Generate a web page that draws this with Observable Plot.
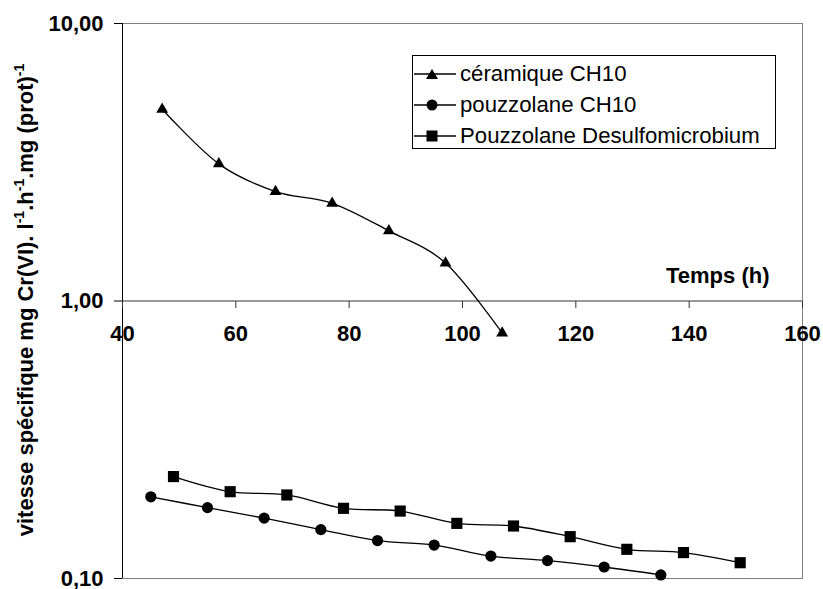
<!DOCTYPE html>
<html><head><meta charset="utf-8">
<script src="https://cdn.jsdelivr.net/npm/d3@7"></script>
<script src="https://cdn.jsdelivr.net/npm/@observablehq/plot@0.6"></script>
<style>
body{margin:0;background:#fff;font-family:Arial,"Liberation Sans",sans-serif;}
#wrap{position:relative;width:823px;height:589px;overflow:hidden;}
#legend{position:absolute;left:412px;top:55px;width:364px;height:94px;border:1px solid #000;background:#fff;box-sizing:border-box;}
.row{position:absolute;left:0;height:30px;line-height:30px;font-size:22.2px;color:#000;white-space:nowrap;}
.row svg{position:absolute;left:1px;top:0;}
.row span{position:absolute;left:47px;top:0;}
</style></head><body><div id="wrap"></div>
<script>
const seriesNames = ["céramique CH10", "pouzzolane CH10", "Pouzzolane Desulfomicrobium"];
const ceramX = [47, 57, 67, 77, 87, 97, 107];
const ceramY = [4.91, 3.12, 2.48, 2.25, 1.79, 1.37, 0.767];
const pouzX = [45, 55, 65, 75, 85, 95, 105, 115, 125, 135];
const pouzY = [0.197, 0.180, 0.165, 0.150, 0.137, 0.132, 0.1205, 0.116, 0.110, 0.103];
const desulX = [49, 59, 69, 79, 89, 99, 109, 119, 129, 139, 149];
const desulY = [0.233, 0.2055, 0.200, 0.179, 0.175, 0.158, 0.1546, 0.1415, 0.1274, 0.124, 0.114];
const xTicks = [40, 60, 80, 100, 120, 140, 160];
const yTicks = [0.1, 1, 10];
const yTickLabels = ["0,10", "1,00", "10,00"];
const xLabel = "Temps (h)";
const symbols = ["triangle", "circle", "square"];

const toRows = (xs, ys, s) => xs.map((x, i) => ({x, y: ys[i], s}));
const ceram = toRows(ceramX, ceramY, seriesNames[0]);
const pouz = toRows(pouzX, pouzY, seriesNames[1]);
const desul = toRows(desulX, desulY, seriesNames[2]);
const all = [...ceram, ...pouz, ...desul];
const FONT = "Arial, 'Liberation Sans', sans-serif";
// downward tick glyph for the x axis drawn at y = 1
const tickDown = {draw(ctx) { ctx.moveTo(0, 0); ctx.lineTo(0, 7); }};

const plot = Plot.plot({
  width: 823, height: 589,
  marginLeft: 122, marginRight: 21, marginTop: 23, marginBottom: 11,
  style: {fontFamily: FONT, background: "#fff", color: "#000"},
  x: {domain: [40, 160], axis: null},
  y: {type: "log", domain: [0.1, 10], axis: null},
  marks: [
    Plot.frame({stroke: "#808080"}),
    Plot.ruleX([40], {stroke: "#000"}),
    Plot.ruleY([1], {stroke: "#333"}),
    Plot.axisY(yTicks, {tickSize: 8, tickPadding: 11, tickFormat: d => yTickLabels[yTicks.indexOf(d)],
      fontSize: 22, fontWeight: "bold", label: null}),
    Plot.dot(xTicks, {x: d => d, y: () => 1, symbol: tickDown, stroke: "#333", fill: "none", strokeWidth: 1}),
    Plot.text(xTicks, {x: d => d, y: () => 1, text: d => String(d), dy: 33, fontSize: 22, fontWeight: "bold", fill: "#000"}),
    Plot.text([{label: xLabel, y: 1}], {y: "y", text: "label", frameAnchor: "right", textAnchor: "end", dx: -33, dy: -25, fontSize: 22, fontWeight: "bold", fill: "#000"}),
    Plot.line(all, {x: "x", y: "y", z: "s", curve: "cardinal", stroke: "#000", strokeWidth: 1.3}),
    Plot.dot(ceram, {x: "x", y: "y", symbol: symbols[0], r: 4.4, fill: "#000", stroke: "none"}),
    Plot.dot(pouz, {x: "x", y: "y", symbol: symbols[1], r: 5.6, fill: "#000", stroke: "none"}),
    Plot.dot(desul, {x: "x", y: "y", symbol: symbols[2], r: 6.3, fill: "#000", stroke: "none"})
  ]
});

const svg = d3.select(plot);
const t = svg.append("text")
  .attr("transform", "translate(33,300) rotate(-90)")
  .attr("text-anchor", "middle")
  .attr("font-family", FONT)
  .attr("font-size", 22).attr("font-weight", "bold").attr("fill", "#000");
const parts = [["vitesse spécifique mg Cr(VI). l", false], ["-1", true], [".h", false], ["-1", true], [".mg (prot)", false], ["-1", true]];
parts.forEach(([s, sup], i) => {
  const ts = t.append("tspan").text(s);
  if (sup) ts.attr("font-size", 14).attr("dy", -9);
  else if (i > 0) ts.attr("dy", 9);
});

const wrap = document.getElementById("wrap");
wrap.appendChild(plot);

const legend = document.createElement("div");
legend.id = "legend";
const rowTops = [3, 34, 65];
const symSvg = [
  '<polygon points="18,10 24,20 12,20" fill="#000"/>',
  '<circle cx="18" cy="15" r="5.5" fill="#000"/>',
  '<rect x="12.5" y="9.5" width="11" height="11" fill="#000"/>'
];
seriesNames.forEach((name, i) => {
  const row = document.createElement("div");
  row.className = "row";
  row.style.top = rowTops[i] + "px";
  row.innerHTML = `<svg width="44" height="30"><line x1="0" y1="15" x2="42" y2="15" stroke="#000" stroke-width="1.3"/>${symSvg[i]}</svg><span>${name}</span>`;
  legend.appendChild(row);
});
wrap.appendChild(legend);
</script>
</body></html>
